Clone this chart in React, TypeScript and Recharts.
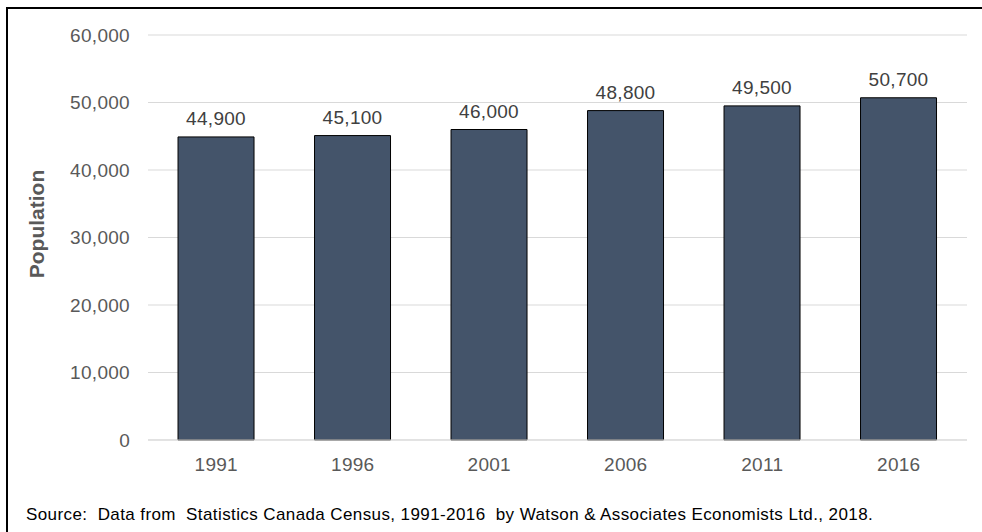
import { Bar, BarChart, CartesianGrid, LabelList, XAxis, YAxis } from "recharts";

const years = ["1991", "1996", "2001", "2006", "2011", "2016"];
const population = [44900, 45100, 46000, 48800, 49500, 50700];
const yTicks = [0, 10000, 20000, 30000, 40000, 50000, 60000];

const data = years.map((year, i) => ({ year, population: population[i] }));

const fmt = (v: number) => v.toLocaleString("en-US");
const font = "Arial, 'Liberation Sans', sans-serif";

export default function App() {
  return (
    <div style={{ position: "absolute", left: 0, top: 0, width: 982, height: 532, overflow: "hidden", background: "#fff", fontFamily: font }}>
      <div style={{ position: "absolute", left: 6, top: 7, width: 1000, height: 600, borderTop: "2px solid #000", borderLeft: "2px solid #000" }} />
      <BarChart
        width={982}
        height={532}
        data={data}
        margin={{ top: 35, right: 15, left: 0, bottom: 62 }}
        barCategoryGap="22%"
        style={{ position: "absolute", left: 0, top: 0 }}
      >
        <CartesianGrid vertical={false} stroke="#d9d9d9" />
        <XAxis
          dataKey="year"
          height={30}
          tickLine={false}
          axisLine={{ stroke: "#d9d9d9" }}
          tickMargin={12}
          tick={{ fill: "#595959", fontSize: 19, fontFamily: font, letterSpacing: 0.3 }}
        />
        <YAxis
          width={148}
          domain={[0, 60000]}
          ticks={yTicks}
          tickFormatter={fmt}
          tickLine={false}
          axisLine={false}
          tickMargin={12}
          tick={{ fill: "#595959", fontSize: 19, fontFamily: font, letterSpacing: 0.3 }}
        />
        <Bar dataKey="population" fill="#44546a" stroke="#000" strokeWidth={1} isAnimationActive={false}>
          <LabelList
            dataKey="population"
            position="top"
            offset={12}
            formatter={(v: any) => fmt(Number(v))}
            style={{ fill: "#404040", fontSize: 19, fontFamily: font, letterSpacing: 0.3 }}
          />
        </Bar>
      </BarChart>
      <div
        style={{
          position: "absolute",
          left: 37,
          top: 224,
          transform: "translate(-50%, -50%) rotate(-90deg)",
          fontWeight: "bold",
          fontSize: 21,
          color: "#595959",
          whiteSpace: "nowrap",
        }}
      >
        Population
      </div>
      <div
        style={{
          position: "absolute",
          left: 26,
          top: 505,
          fontSize: 17,
          letterSpacing: 0.4,
          color: "#000",
          whiteSpace: "pre",
        }}
      >
        {"Source:  Data from  Statistics Canada Census, 1991-2016  by Watson & Associates Economists Ltd., 2018."}
      </div>
    </div>
  );
}
